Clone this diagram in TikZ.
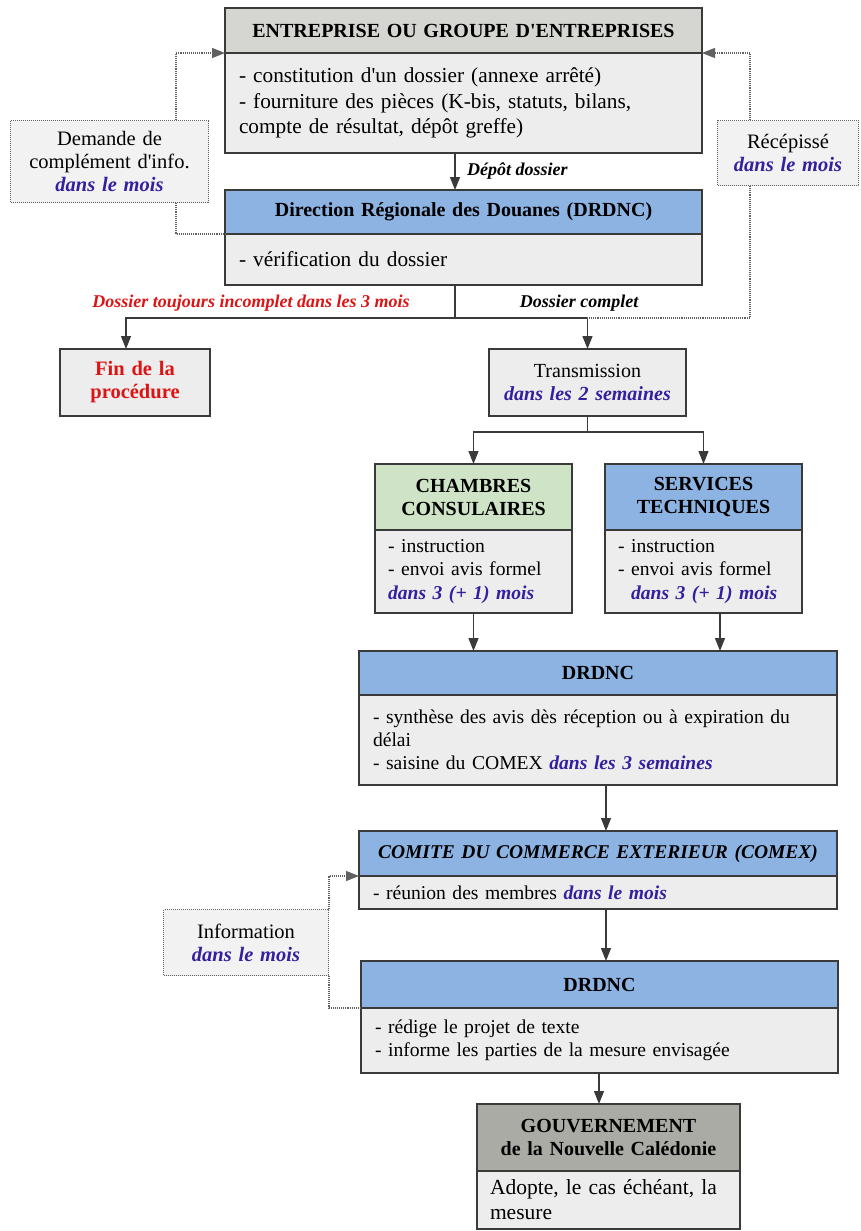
\documentclass[tikz,border=0pt]{standalone}
\usepackage{fontspec}
\setmainfont{Liberation Serif}[Ligatures=TeXOff]
\usetikzlibrary{arrows.meta}
\definecolor{edge}{HTML}{3A3A3A}
\definecolor{hgray}{HTML}{D5D5D1}
\definecolor{bgray}{HTML}{EDEDED}
\definecolor{hblue}{HTML}{8DB3E2}
\definecolor{hgreen}{HTML}{CFE4C6}
\definecolor{hdark}{HTML}{ABABA6}
\definecolor{tblue}{HTML}{34209E}
\definecolor{tred}{HTML}{DC1414}
\newcommand{\dl}[1]{\textcolor{tblue}{\bfseries\itshape #1}}
\tikzset{
 box/.style={draw=edge, line width=1.4pt, inner ysep=0pt, inner xsep=14pt, outer sep=0pt, anchor=north west},
 hdr/.style={box, font=\bfseries\fontsize{20}{23}\selectfont, align=center},
 bdy/.style={box, fill=bgray, font=\fontsize{21.3}{25.5}\selectfont, align=left},
 sbdy/.style={bdy, font=\fontsize{19.6}{23}\selectfont},
 side/.style={draw=edge!80, densely dotted, line width=1pt, fill=bgray!70, inner xsep=4pt, inner ysep=0pt, anchor=north west, align=center, font=\fontsize{20.5}{23}\selectfont},
 con/.style={draw=edge, line width=1.3pt},
 arr/.style={con, -{Triangle[length=13pt,width=10pt]}},
 dcon/.style={draw=edge!80, densely dotted, line width=1.1pt},
 darr/.style={dcon, -{Triangle[length=13pt,width=10pt]}},
 lbl/.style={font=\bfseries\itshape\fontsize{18}{21}\selectfont, inner sep=0pt},
}
\begin{document}
\begin{tikzpicture}[x=1pt,y=-1pt]
\fill[white] (0,0) rectangle (860,1231);
\useasboundingbox (0,0) rectangle (860,1231);

% top box
\node[hdr, fill=hgray, minimum width=477pt, minimum height=45pt, text width=449pt] (topH) at (225,8) {ENTREPRISE OU GROUPE D'ENTREPRISES};
\node[bdy, minimum width=477pt, minimum height=100pt, text width=449pt] (topB) at (225,53) {- constitution d'un dossier (annexe arrêté)\\- fourniture des pièces (K-bis, statuts, bilans,\\compte de résultat, dépôt greffe)};

% DRDNC 1
\node[hdr, fill=hblue, minimum width=477pt, minimum height=44pt, text width=449pt] (drdH) at (225,190) {Direction Régionale des Douanes (DRDNC)};
\node[bdy, minimum width=477pt, minimum height=51pt, text width=449pt] (drdB) at (225,234) {- vérification du dossier};

% side boxes
\node[side, minimum width=198pt, minimum height=82pt, text width=190pt] (lbox) at (10,120) {Demande de\\complément d'info.\\\dl{dans le mois}};
\node[side, minimum width=141pt, minimum height=65pt, text width=133pt] (rbox) at (717,120) {Récépissé\\\dl{dans le mois}};

% Fin / Transmission
\node[bdy, minimum width=150pt, minimum height=67pt, text width=122pt, align=center, font=\bfseries\fontsize{20.5}{23}\selectfont, text=tred] (fin) at (60,349) {Fin de la\\procédure};
\node[bdy, minimum width=197pt, minimum height=67pt, inner xsep=5pt, text width=187pt, align=center, font=\fontsize{20}{23}\selectfont] (trans) at (489,349) {Transmission\\\dl{dans les 2 semaines}};

% Chambres / Services
\node[hdr, fill=hgreen, minimum width=197pt, minimum height=66pt, text width=169pt] (chH) at (375,464) {CHAMBRES\\CONSULAIRES};
\node[sbdy, minimum width=197pt, minimum height=83pt, inner xsep=13pt, text width=171pt, font=\fontsize{19.6}{23.5}\selectfont] (chB) at (375,530) {- instruction\\- envoi avis formel\\\dl{dans 3 (+ 1) mois}};
\node[hdr, fill=hblue, minimum width=197pt, minimum height=66pt, text width=169pt] (svH) at (605,464) {SERVICES\\TECHNIQUES};
\node[sbdy, minimum width=197pt, minimum height=83pt, inner xsep=13pt, text width=171pt, font=\fontsize{19.6}{23.5}\selectfont] (svB) at (605,530) {- instruction\\- envoi avis formel\\\hspace*{13pt}\dl{dans 3 (+ 1) mois}};

% DRDNC 2
\node[hdr, fill=hblue, minimum width=478pt, minimum height=44pt, text width=450pt] (d2H) at (359,651) {DRDNC};
\node[sbdy, minimum width=478pt, minimum height=90pt, text width=450pt] (d2B) at (359,695) {- synthèse des avis dès réception ou à expiration du\\délai\\- saisine du COMEX \dl{dans les 3 semaines}};

% COMEX
\node[hdr, fill=hblue, minimum width=478pt, minimum height=45pt, inner xsep=2pt, text width=474pt, font=\bfseries\itshape\fontsize{19.5}{23}\selectfont] (comH) at (359,831) {COMITE DU COMMERCE EXTERIEUR (COMEX)};
\node[sbdy, minimum width=478pt, minimum height=33pt, text width=450pt] (comB) at (359,876) {- réunion des membres \dl{dans le mois}};

% Information
\node[side, minimum width=165pt, minimum height=66pt, text width=157pt] (info) at (163,909) {Information\\\dl{dans le mois}};

% DRDNC 3
\node[hdr, fill=hblue, minimum width=477pt, minimum height=47pt, text width=449pt] (d3H) at (361,961) {DRDNC};
\node[sbdy, minimum width=477pt, minimum height=65pt, text width=449pt] (d3B) at (361,1008) {- rédige le projet de texte\\- informe les parties de la mesure envisagée};

% Gouvernement
\node[hdr, fill=hdark, minimum width=263pt, minimum height=67pt, text width=235pt] (gH) at (477,1104) {GOUVERNEMENT\\de la Nouvelle Calédonie};
\node[bdy, minimum width=263pt, minimum height=58pt, inner xsep=13pt, text width=237pt, font=\fontsize{21.5}{25}\selectfont] (gB) at (477,1171) {Adopte, le cas échéant, la\\mesure};

% connectors
\draw[arr] ([xshift=-8.5pt]topB.south) -- ([xshift=-8.5pt]drdH.north);
\node[lbl, anchor=west] (depot) at (467,171) {Dépôt dossier};

\coordinate (j1) at (455,318);
\coordinate (jR) at (587,318);
\draw[con] ([xshift=-8.5pt]drdB.south) -- (j1);
\draw[arr] (j1) -| ([xshift=-9pt]fin.north);
\draw[arr] (j1) -| (trans.north);
\node[lbl, text=tred] (incomp) at (251,303) {Dossier toujours incomplet dans les 3 mois};
\node[lbl] (compl) at (579,303) {Dossier complet};

\draw[con] (trans.south) -- ++(0,16) coordinate (j2);
\draw[arr] (j2) -| (chH.north);
\draw[arr] (j2) -| (svH.north);

\draw[arr] (chB.south) -- (chB.south |- d2H.north);
\draw[arr] ([xshift=16.5pt]svB.south) -- ([xshift=16.5pt]svB.south |- d2H.north);
\draw[arr] ([xshift=8pt]d2B.south) -- ([xshift=8pt]d2B.south |- comH.north);
\draw[arr] ([xshift=8pt]comB.south) -- ([xshift=8pt]comB.south |- d3H.north);
\draw[arr] ([xshift=-0.5pt]d3B.south) -- ([xshift=-0.5pt]d3B.south |- gH.north);

% dotted feedback connectors
\draw[darr] ([xshift=-33pt]lbox.north east) |- (topB.north west);
\draw[dcon] ([xshift=-33pt]lbox.south east) |- (drdB.north west);
\draw[darr] ([xshift=33pt]rbox.north west) |- (topB.north east);
\draw[dcon] ([xshift=33pt]rbox.south west) |- (jR);
\draw[darr] (info.north east) |- (comB.north west);
\draw[dcon] (info.south east) |- (d3B.north west);
\end{tikzpicture}
\end{document}
